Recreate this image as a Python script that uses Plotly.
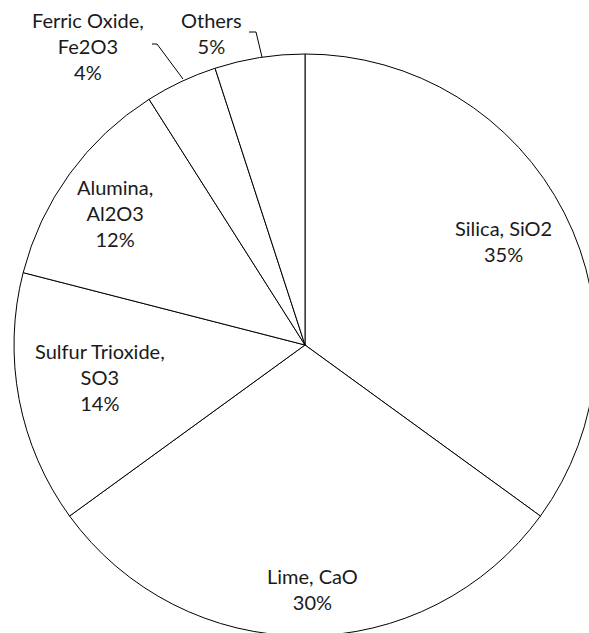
import plotly.graph_objects as go

# Composition of the material, clockwise from 12 o'clock
labels = ["Silica, SiO2", "Lime, CaO", "Sulfur Trioxide, SO3", "Alumina, Al2O3",
          "Ferric Oxide, Fe2O3", "Others"]
values = [35, 30, 14, 12, 4, 5]
# Text lines for each slice label (the percentage is appended from values)
label_lines = [["Silica, SiO2"], ["Lime, CaO"], ["Sulfur Trioxide,", "SO3"],
               ["Alumina,", "Al2O3"], ["Ferric Oxide,", "Fe2O3"], ["Others"]]

W, H = 596, 636           # figure size in px (the window shows 589x633 of it)
CX, CY, R = 305, 345, 291  # pie centre and radius in px

# label block centres in px
label_pos = [(503, 241), (312, 589), (100, 377), (115, 213), (88, 46), (211, 33)]

# leader lines for the small outside labels, in px
leaders = [[(152, 44), (157, 44), (183, 79)],
           [(249, 32), (256, 32), (262, 57)]]

def px(x, y):
    return x / W, 1 - y / H

fig = go.Figure(go.Pie(
    labels=labels,
    values=values,
    sort=False,
    direction="clockwise",
    rotation=0,
    textinfo="none",
    hoverinfo="label+percent",
    marker=dict(colors=["white"] * len(values), line=dict(color="black", width=1)),
    domain=dict(x=[(CX - R) / W, (CX + R) / W], y=[1 - (CY + R) / H, 1 - (CY - R) / H]),
    showlegend=False,
))

total = sum(values)
for lines, v, (lx, ly) in zip(label_lines, values, label_pos):
    pct = round(100 * v / total)
    text = "<br>".join(lines + [f"{pct}%"])
    x, y = px(lx, ly)
    fig.add_annotation(x=x, y=y, xref="paper", yref="paper", text=text,
                       showarrow=False, xanchor="center", yanchor="middle",
                       align="center",
                       font=dict(family="Lato", size=20, color="#1a1a1a"))

for pts in leaders:
    for (x0, y0), (x1, y1) in zip(pts[:-1], pts[1:]):
        a0, b0 = px(x0, y0)
        a1, b1 = px(x1, y1)
        fig.add_shape(type="line", xref="paper", yref="paper",
                      x0=a0, y0=b0, x1=a1, y1=b1,
                      line=dict(color="black", width=1))

fig.update_layout(
    width=W, height=H,
    margin=dict(l=0, r=0, t=0, b=0),
    paper_bgcolor="white",
    plot_bgcolor="white",
)

fig.write_html(
    "out.html",
    post_script="document.body.style.overflow='hidden';"
                "document.documentElement.style.overflow='hidden';"
                "document.body.style.margin='0';",
)
